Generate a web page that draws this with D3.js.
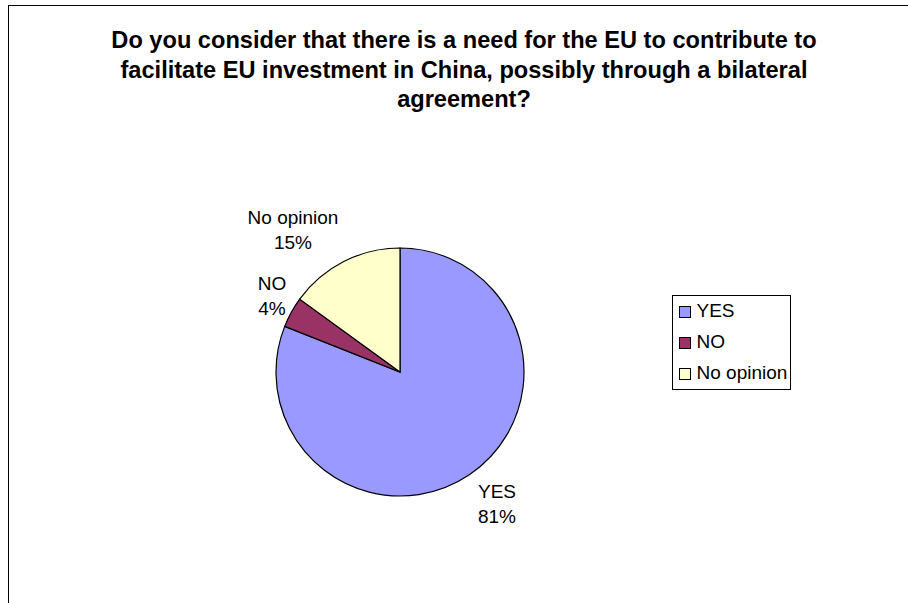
<!DOCTYPE html>
<html><head><meta charset="utf-8">
<script src="https://cdn.jsdelivr.net/npm/d3@7/dist/d3.min.js"></script>
<style>body{margin:0;background:#fff}svg{display:block}</style>
</head><body>
<svg id="c" width="908" height="603"></svg>
<script>
const categories = ["YES", "NO", "No opinion"];
const values = [81, 4, 15];
const colors = ["#9999FF", "#993366", "#FFFFCC"];
const titleLines = ["Do you consider that there is a need for the EU to contribute to",
  "facilitate EU investment in China, possibly through a bilateral", "agreement?"];

const svg = d3.select("#c");
const font = "Liberation Sans, Arial, sans-serif";
svg.append("rect").attr("x", 8.5).attr("y", 5.5).attr("width", 910).attr("height", 610)
  .attr("fill", "#fff").attr("stroke", "#000").attr("stroke-width", 1);

svg.append("g").selectAll("text").data(titleLines).join("text")
  .attr("x", 464).attr("y", (d, i) => 48 + i * 29.5)
  .attr("text-anchor", "middle").attr("font-family", font).attr("font-weight", "bold")
  .attr("font-size", 23.6).text(d => d);

const cx = 400, cy = 372, r = 124;
const pie = d3.pie().sort(null).value(d => d)(values);
const arc = d3.arc().innerRadius(0).outerRadius(r);
const g = svg.append("g").attr("transform", `translate(${cx},${cy})`);
g.selectAll("path").data(pie).join("path")
  .attr("d", arc).attr("fill", (d, i) => colors[i]).attr("stroke", "#000").attr("stroke-width", 1.2);

const labelPos = [[497, 498], [272, 290], [293, 224]];
const lab = svg.append("g").attr("font-family", font).attr("font-size", 19).attr("text-anchor", "middle");
categories.forEach((c, i) => {
  const t = lab.append("text").attr("x", labelPos[i][0]).attr("y", labelPos[i][1]);
  t.append("tspan").attr("x", labelPos[i][0]).attr("dy", 0).text(c);
  t.append("tspan").attr("x", labelPos[i][0]).attr("dy", 24.5).text(values[i] + "%");
});

const lg = svg.append("g");
lg.append("rect").attr("x", 672.5).attr("y", 295.5).attr("width", 118).attr("height", 94)
  .attr("fill", "#fff").attr("stroke", "#000");
const items = lg.selectAll("g").data(categories).join("g")
  .attr("transform", (d, i) => `translate(679,${317 + i * 31})`);
items.append("rect").attr("x", 0.5).attr("y", -10.5).attr("width", 11).attr("height", 11)
  .attr("fill", (d, i) => colors[i]).attr("stroke", "#000");
items.append("text").attr("x", 17.5).attr("y", 0).attr("font-family", font).attr("font-size", 19).text(d => d);
</script>
</body></html>
